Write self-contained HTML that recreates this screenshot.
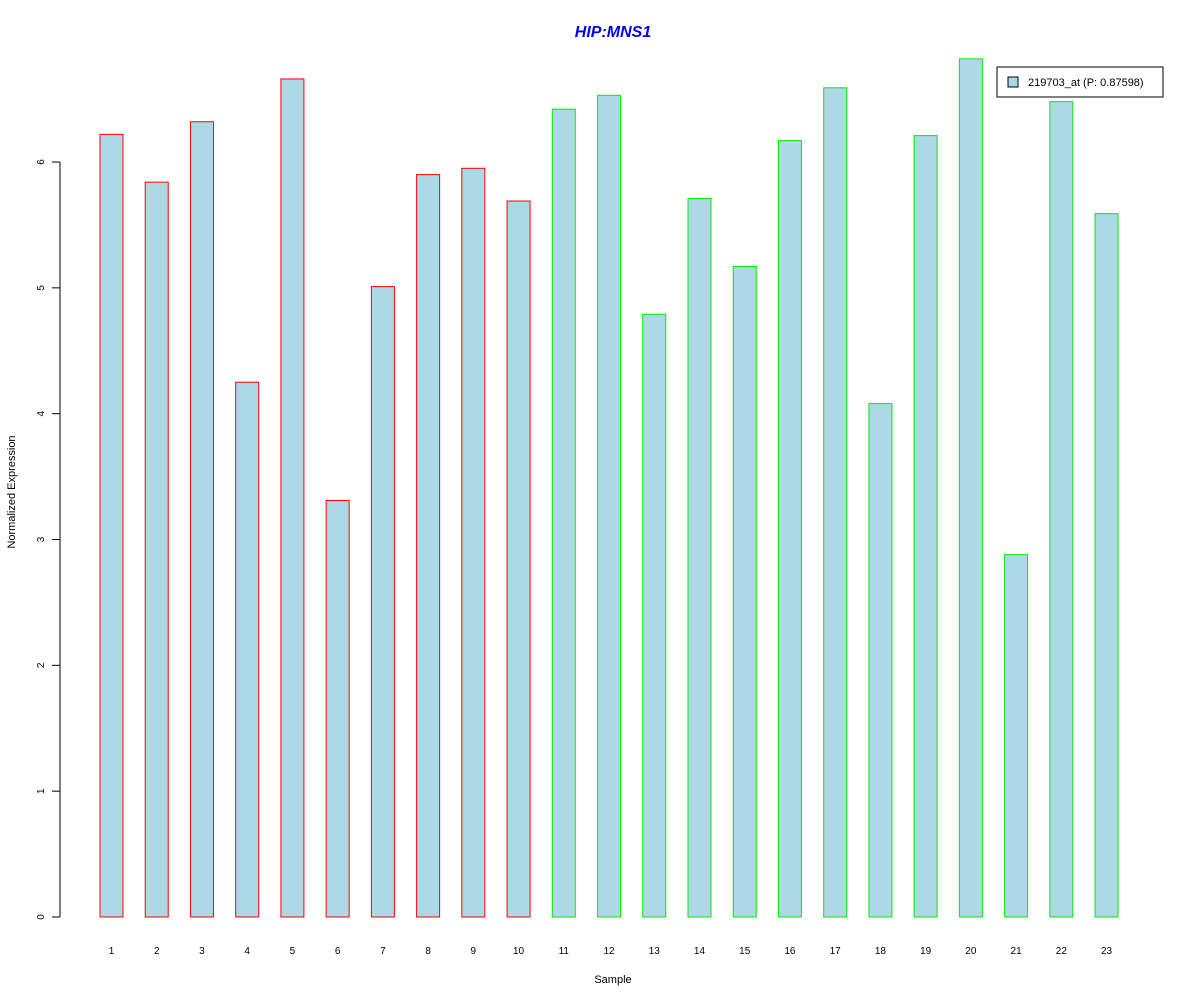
<!DOCTYPE html>
<html><head><meta charset="utf-8"><style>
body{margin:0;background:#fff}
svg{display:block;font-family:"Liberation Sans",Arial,sans-serif}
</style></head><body>
<svg id="chart" width="1200" height="1000" xmlns="http://www.w3.org/2000/svg">
<rect width="1200" height="1000" fill="#fff"/>
<text x="613" y="37" text-anchor="middle" font-size="16" font-weight="bold" font-style="italic" fill="#0000ee">HIP:MNS1</text>
<text x="613" y="983" text-anchor="middle" font-size="11">Sample</text>
<text transform="translate(15,492) rotate(-90)" text-anchor="middle" font-size="11">Normalized Expression</text>
<g id="yaxis"></g>
<g id="bars"></g>
<g id="xlabels"></g>
<g>
<rect x="997" y="67" width="166" height="30" fill="#fff" stroke="#000"/>
<rect x="1008" y="77" width="10" height="10" fill="#add8e6" stroke="#000"/>
<text x="1028" y="86" font-size="11">219703_at (P: 0.87598)</text>
</g>
</svg>
<script>
const categories = ["1","2","3","4","5","6","7","8","9","10","11","12","13","14","15","16","17","18","19","20","21","22","23"];
const values = [6.22,5.84,6.32,4.25,6.66,3.31,5.01,5.90,5.95,5.69,6.42,6.53,4.79,5.71,5.17,6.17,6.59,4.08,6.21,6.82,2.88,6.48,5.59];
const groups = ["a","a","a","a","a","a","a","a","a","a","b","b","b","b","b","b","b","b","b","b","b","b","b"];
const yTicks = [0,1,2,3,4,5,6];
const NS="http://www.w3.org/2000/svg";
const y0=917, unit=125.83;
const y = v => y0 - v*unit;
const x = i => 111.5 + i*45.23;
function mk(tag, attrs, parent){const e=document.createElementNS(NS,tag);for(const k in attrs)e.setAttribute(k,attrs[k]);parent.appendChild(e);return e;}
const ya=document.getElementById('yaxis');
mk('line',{x1:60,x2:60,y1:y(0),y2:y(6),stroke:'#000'},ya);
yTicks.forEach(t=>{
  mk('line',{x1:52,x2:60,y1:y(t),y2:y(t),stroke:'#000'},ya);
  const tx=mk('text',{transform:`translate(44,${y(t)}) rotate(-90)`,'text-anchor':'middle','font-size':10},ya);
  tx.textContent=t;
  
  
});
const bg=document.getElementById('bars'), xl=document.getElementById('xlabels');
values.forEach((v,i)=>{
  const r=mk('rect',{x:x(i)-11.5,y:y(v),width:23,height:y0-y(v),fill:'#add8e6',stroke:groups[i]==='a'?'#ff0000':'#00ee00'},bg);
  
  
  const t=mk('text',{x:x(i),y:954,'text-anchor':'middle','font-size':10},xl);
  t.textContent=categories[i];
  
  
});
</script>
</body></html>
